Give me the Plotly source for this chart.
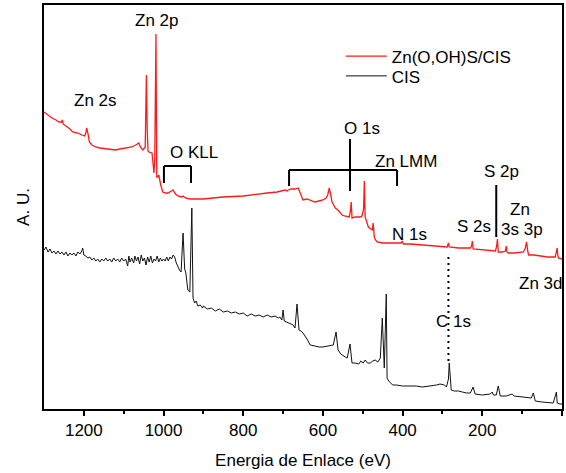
import plotly.graph_objects as go

# ---------------- data (binding energy in eV, intensity in arbitrary units) ----------------
red_ev = [1300, 1290, 1280, 1270, 1262, 1256, 1254, 1252, 1245, 1235, 1228, 1215, 1205, 1198, 1195, 1193,
          1190, 1186, 1180, 1170, 1160, 1140, 1120, 1110, 1095, 1080, 1070, 1062, 1058, 1052, 1046, 1043,
          1041, 1039, 1037, 1029, 1024, 1022, 1019, 1017, 1015, 1012, 1007, 1002, 995, 989, 980, 976, 970,
          964, 955, 951, 945, 934, 900, 851, 800, 765, 740, 715, 700, 695, 690, 687, 680, 670, 662, 656,
          650, 640, 632, 625, 620, 610, 600, 592, 588, 584, 580, 577, 573, 569, 562, 557, 552, 546, 539,
          534, 531, 529, 527, 520, 507, 502, 498, 496, 494, 490, 486, 480, 476, 474, 471, 468, 464, 450,
          431, 415, 404, 401, 398, 380, 350, 320, 300, 288, 285, 283, 260, 240, 230, 227, 225, 223, 200,
          180, 167, 164, 162, 160, 150, 142, 140, 138, 135, 120, 97, 92, 89, 86, 84, 70, 50, 37, 17, 13,
          12, 11, 9, 0]
red_int = [297, 294, 291, 289, 287, 287, 289, 285, 283, 280, 277, 276, 274, 273, 276, 281,
           276, 267, 264, 262, 261, 260, 259, 260, 261, 262, 264, 266, 262, 259, 262, 334,
           280, 258, 257, 256, 236, 250, 375, 232, 232, 234, 224, 217, 216, 216, 218, 219, 215,
           213, 212, 213, 211, 210, 210, 212, 213, 215, 216, 217, 218, 219, 218, 219, 220, 220, 221, 215,
           209, 210, 209, 208, 207, 208, 209, 211, 214, 221, 212, 207, 204, 201, 199, 197, 194, 193, 192,
           192, 198, 207, 191, 192, 192, 193, 200, 228, 192, 188, 182, 180, 179, 186, 172, 169, 167, 166,
           166, 166, 166, 168, 165, 165, 164, 163, 163, 162, 166, 162, 161, 161, 161, 163, 168, 160, 159,
           158, 158, 163, 170, 157, 157, 158, 163, 157, 156, 156, 157, 161, 167, 158, 154, 154, 153, 152, 152, 158,
           161, 155, 151, 150]

black_ev = [1300, 1295, 1290, 1285, 1280, 1275, 1270, 1265, 1260, 1255, 1250, 1245, 1240, 1235, 1230, 1225,
            1220, 1215, 1210, 1205, 1203, 1200, 1195, 1190, 1185, 1180, 1175, 1170, 1165, 1160, 1155, 1150,
            1145, 1140, 1135, 1130, 1125, 1120, 1115, 1110, 1105, 1100, 1095, 1090, 1087, 1084, 1080, 1075,
            1072, 1068, 1064, 1060, 1056, 1052, 1048, 1044, 1040, 1036, 1032, 1028, 1024, 1020, 1016, 1012,
            1008, 1004, 1000, 996, 992, 988, 984, 980, 976, 972, 968, 964, 960, 956, 951, 947, 944, 939, 934,
            929, 926, 922, 918, 914, 908, 902, 900, 890, 880, 870, 860, 850, 840, 830, 820, 810, 800, 790,
            780, 770, 760, 750, 740, 730, 720, 712, 708, 703, 700, 697, 690, 680, 675, 670, 665, 660, 655,
            650, 640, 632, 620, 610, 600, 590, 580, 574, 567, 562, 555, 549, 544, 539, 532, 527, 520, 510,
            505, 499, 494, 488, 481, 475, 469, 462, 456, 451, 446, 441, 439, 435, 431, 425, 416, 400, 380,
            366, 350, 330, 315, 306, 295, 290, 285, 283, 281, 278, 270, 260, 250, 240, 230, 223, 218, 200,
            180, 175, 172, 165, 160, 155, 140, 125, 120, 100, 90, 77, 72, 67, 50, 30, 22, 14, 12, 5, 0]
black_int = [159, 162, 157, 160, 156, 158, 155, 158, 155, 157, 154, 157, 153, 156, 154, 156,
             153, 157, 155, 158, 161, 154, 153, 151, 152, 149, 151, 148, 150, 147, 150, 148,
             151, 148, 150, 147, 151, 148, 150, 147, 151, 148, 150, 143, 153, 147, 151, 146,
             153, 148, 152, 145, 154, 148, 151, 144, 152, 147, 153, 146, 150, 148, 153, 147,
             151, 148, 150, 148, 152, 148, 152, 150, 154, 152, 146, 142, 139, 137, 176, 140, 136, 119, 117,
             201, 111, 106, 108, 103, 104, 101, 103, 100, 101, 98, 100, 97, 98, 96, 97, 95, 96, 93,
             95, 93, 94, 92, 94, 92, 93, 91, 92, 89, 99, 88, 87, 85, 84, 81, 105, 79, 78,
             76, 70, 64, 63, 62, 62, 63, 64, 64, 77, 59, 55, 53, 52, 51, 65, 46, 46, 45,
             48, 46, 49, 46, 46, 48, 49, 47, 51, 91, 41, 115, 31, 28, 26, 24, 24, 23, 23,
             23, 22, 23, 24, 25, 24, 22, 30, 46, 30, 19, 18, 18, 17, 16, 16, 22, 15, 14,
             15, 17, 14, 14, 23, 13, 13, 15, 13, 12, 12, 11, 16, 8, 7, 6, 6, 17, 6, 5, 5]

series_names = ["Zn(O,OH)S/CIS", "CIS"]
x_ticks = [1200, 1000, 800, 600, 400, 200, 0]

# peak labels: (text, energy, intensity)
labels = [("Zn 2p", 1017, 389), ("Zn 2s", 1172, 309), ("O KLL", 924, 257), ("O 1s", 503, 281),
          ("Zn LMM", 391, 248), ("S 2p", 152, 238), ("Zn", 105, 200), ("3s 3p", 100, 180),
          ("S 2s", 220, 183), ("N 1s", 382, 175), ("Zn 3d", 54, 126), ("C 1s", 273, 88)]

# marker lines: brackets and pointers (energy / intensity values)
okll_bracket = dict(x0=999, x1=931, ytop=243, ybot=226)
znlmm_bracket = dict(x0=685, x1=414, ytop=239, ybot=223)
o1s_line = dict(x=532, y0=270, y1=218)
s2p_line = dict(x=165, y0=224, y1=172)
c1s_line = dict(x=285, y0=152, y1=47)

FONT = "Liberation Sans, Arial, sans-serif"

fig = go.Figure()
fig.add_trace(go.Scatter(x=red_ev, y=red_int, mode="lines", name=series_names[0], legend="legend",
                         line=dict(color="#ff1a1a", width=1.3)))
fig.add_trace(go.Scatter(x=black_ev, y=black_int, mode="lines", name=series_names[1], legend="legend2",
                         line=dict(color="#111111", width=1)))

shapes = []
lw = 2
for b in (okll_bracket, znlmm_bracket):
    shapes.append(dict(type="line", xref="x", yref="y", x0=b["x0"], x1=b["x1"], y0=b["ytop"], y1=b["ytop"],
                       line=dict(color="black", width=lw)))
    shapes.append(dict(type="line", xref="x", yref="y", x0=b["x0"], x1=b["x0"], y0=b["ytop"], y1=b["ybot"],
                       line=dict(color="black", width=lw)))
    shapes.append(dict(type="line", xref="x", yref="y", x0=b["x1"], x1=b["x1"], y0=b["ytop"], y1=b["ybot"],
                       line=dict(color="black", width=lw)))
for ln in (o1s_line, s2p_line):
    shapes.append(dict(type="line", xref="x", yref="y", x0=ln["x"], x1=ln["x"], y0=ln["y0"], y1=ln["y1"],
                       line=dict(color="black", width=lw)))
shapes.append(dict(type="line", xref="x", yref="y", x0=c1s_line["x"], x1=c1s_line["x"],
                   y0=c1s_line["y0"], y1=c1s_line["y1"], line=dict(color="black", width=2, dash="2px,4px")))

annotations = [dict(text=t, x=x, y=y, xref="x", yref="y", showarrow=False,
                    font=dict(family=FONT, size=17, color="black")) for t, x, y in labels]

legend_common = dict(xanchor="left", yanchor="top", bgcolor="rgba(0,0,0,0)",
                     font=dict(family=FONT, size=17, color="black"), itemwidth=41)

fig.update_layout(
    width=566, height=473,
    margin=dict(l=44, r=4, t=5, b=64),
    paper_bgcolor="white", plot_bgcolor="white",
    font=dict(family=FONT, size=17, color="black"),
    shapes=shapes, annotations=annotations,
    showlegend=True,
    legend=dict(x=0.573, y=0.917, **legend_common),
    legend2=dict(x=0.573, y=0.868, **legend_common),
    xaxis=dict(range=[1300, 0], tickvals=x_ticks, ticks="outside", ticklen=5, tickwidth=1.5,
               tickcolor="black", showline=True, linecolor="black", linewidth=2, mirror=True,
               showgrid=False, zeroline=False, automargin=False,
               minor=dict(tickvals=[1100, 900, 700, 500, 300, 100], ticks="outside", ticklen=3,
                          tickwidth=1.5, tickcolor="black", showgrid=False),
               tickfont=dict(family=FONT, size=17),
               title=dict(text="Energia de Enlace (eV)", font=dict(family=FONT, size=17), standoff=15)),
    yaxis=dict(range=[0, 404], showticklabels=False, ticks="", showline=True, linecolor="black",
               linewidth=2, mirror=True, showgrid=False, zeroline=False, automargin=False,
               title=dict(text="A. U.", font=dict(family=FONT, size=17), standoff=8)),
)

fig.write_html("out.html")
